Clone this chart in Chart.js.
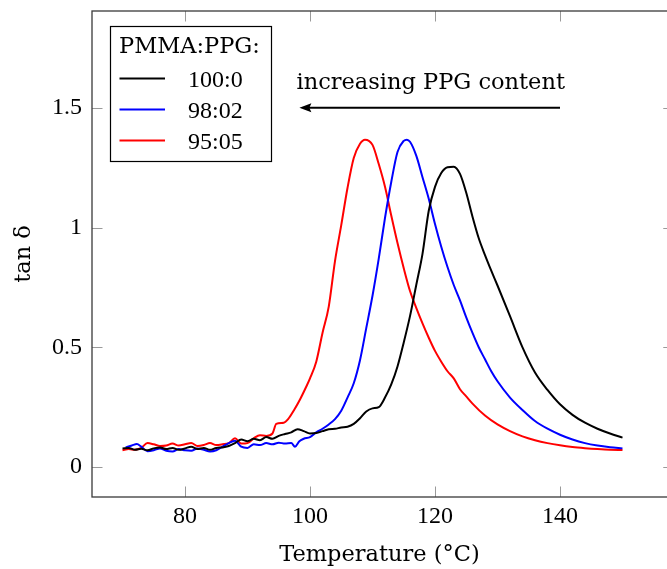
<!DOCTYPE html>
<html><head><meta charset="utf-8">
<script src="https://cdn.jsdelivr.net/npm/chart.js@4/dist/chart.umd.min.js"></script>
<style>html,body{margin:0;padding:0;background:#fff}#wrap{width:667px;height:569px;position:relative}</style>
</head><body><div id="wrap"><canvas id="c" width="667" height="569"></canvas></div>
<script>
// ---- data ----
const seriesLabels = ['100:0', '98:02', '95:05'];
const seriesColors = ['#000000', '#0000ff', '#ff0000'];

const tempBlack = [70,71,72,73,74,75,76,77,78,79,80,81,82,83,84,85,86,87,88,89,90,91,92,93,94,95,96,97,98,99,100,101,102,103,104,105,106,107,108,109,110,111,112,113,114,115,116,117,118,119,120,121,122,123,124,125,126,127,128,129,130,132,134,136,138,140,142,144,146,148,150];
const tanBlack  = [0.078,0.08,0.072,0.076,0.07,0.078,0.082,0.075,0.08,0.072,0.078,0.085,0.075,0.08,0.072,0.08,0.082,0.088,0.1,0.115,0.108,0.118,0.112,0.125,0.118,0.13,0.138,0.145,0.158,0.15,0.14,0.142,0.15,0.158,0.16,0.165,0.168,0.18,0.204,0.232,0.245,0.25,0.29,0.345,0.42,0.52,0.63,0.76,0.89,1.07,1.17,1.228,1.252,1.254,1.224,1.145,1.045,0.955,0.885,0.82,0.758,0.63,0.5,0.395,0.322,0.262,0.218,0.185,0.16,0.14,0.123];

const tempBlue = [70.5,71.5,72.3,73,74,75,76,77,78,79,80,81,82,83,84,85,86,87,88,89,90,91,92,93,94,95,96,97,97.6,98.3,99,100,101,102,103,104,105,106,107,108,109,110,111,112,113,114,115,115.5,116,117,118,119,120,121,122,123,124,125,126,127,128,129,130,132,134,136,138,140,142,144,146,148,150];
const tanBlue  = [0.082,0.09,0.096,0.085,0.066,0.07,0.078,0.068,0.065,0.075,0.07,0.068,0.078,0.072,0.065,0.07,0.085,0.1,0.11,0.085,0.08,0.095,0.092,0.1,0.095,0.102,0.098,0.1,0.085,0.108,0.118,0.125,0.145,0.16,0.178,0.2,0.235,0.29,0.35,0.446,0.58,0.715,0.87,1.04,1.19,1.315,1.362,1.367,1.358,1.3,1.21,1.12,1.015,0.92,0.835,0.76,0.696,0.625,0.56,0.5,0.45,0.4,0.358,0.29,0.238,0.192,0.16,0.135,0.115,0.1,0.09,0.083,0.078];

const tempRed = [70,71,72,73,74,75,76,77,78,79,80,81,82,83,84,85,86,87,88,89,90,91,92,93,94,94.6,95.8,96.5,97.5,98.4,99.3,100,101,102,103,104,105,106,107,108,108.8,110,111,112,113,114,115,116,117,118,119,120,121,122,123,124,125,126,128,130,132,134,136,138,140,142,144,146,148,150];
const tanRed  = [0.07,0.075,0.072,0.08,0.1,0.095,0.088,0.09,0.098,0.09,0.095,0.1,0.088,0.092,0.1,0.092,0.095,0.1,0.12,0.098,0.1,0.12,0.133,0.13,0.14,0.18,0.185,0.2,0.24,0.282,0.33,0.37,0.44,0.56,0.67,0.86,1.01,1.165,1.29,1.35,1.367,1.345,1.265,1.17,1.05,0.935,0.83,0.735,0.665,0.6,0.54,0.485,0.44,0.4,0.37,0.325,0.295,0.265,0.215,0.178,0.15,0.128,0.112,0.1,0.091,0.084,0.079,0.075,0.072,0.071];

const xTicks = [80, 100, 120, 140];
const yTicks = [0, 0.5, 1, 1.5];
const xTitle = 'Temperature (°C)';
const yTitle = 'tan δ';
const legendTitle = 'PMMA:PPG:';
const annotationText = 'increasing PPG content';
const arrowStart = {x: 140, y: 1.5};
const arrowEnd = {x: 98.3, y: 1.5};
const xAxisEnd = 158.2;   // right end of the axis box (beyond the picture edge)

// ---- styling ----
const WORD_FONT = '"DejaVu Serif", serif';
const NUM_FONT = '"Liberation Serif", serif';

function pts(xs, ys) { return xs.map((x, i) => ({x: x, y: ys[i]})); }

const datasets = [
  {label: seriesLabels[0], data: pts(tempBlack, tanBlack), borderColor: seriesColors[0]},
  {label: seriesLabels[1], data: pts(tempBlue, tanBlue), borderColor: seriesColors[1]},
  {label: seriesLabels[2], data: pts(tempRed, tanRed), borderColor: seriesColors[2]}
].map(d => Object.assign(d, {borderWidth: 2, pointRadius: 0, fill: false, cubicInterpolationMode: 'monotone'}));

const framePlugin = {
  id: 'frame',
  afterDraw(chart) {
    const ctx = chart.ctx, a = chart.chartArea;
    const xs = chart.scales.x, ys = chart.scales.y;
    const TL = 10.5;
    const R = xs.getPixelForValue(xAxisEnd);
    ctx.save();
    // ticks (inward, all four sides)
    ctx.strokeStyle = '#9a9a9a';
    ctx.lineWidth = 1;
    ctx.beginPath();
    xTicks.forEach(v => {
      const p = Math.round(xs.getPixelForValue(v)) + 0.5;
      ctx.moveTo(p, a.bottom); ctx.lineTo(p, a.bottom - TL);
      ctx.moveTo(p, a.top); ctx.lineTo(p, a.top + TL);
    });
    yTicks.forEach(v => {
      const p = Math.round(ys.getPixelForValue(v)) + 0.5;
      ctx.moveTo(a.left, p); ctx.lineTo(a.left + TL, p);
      ctx.moveTo(R, p); ctx.lineTo(R - TL, p);
    });
    ctx.stroke();
    // frame
    ctx.strokeStyle = '#3a3a3a';
    ctx.lineWidth = 1.3;
    ctx.strokeRect(a.left, a.top, R - a.left, a.bottom - a.top);

    // annotation arrow + text
    const x1 = xs.getPixelForValue(arrowStart.x), y1 = ys.getPixelForValue(arrowStart.y);
    const x2 = xs.getPixelForValue(arrowEnd.x), y2 = ys.getPixelForValue(arrowEnd.y);
    ctx.strokeStyle = '#000'; ctx.fillStyle = '#000';
    ctx.lineWidth = 2;
    ctx.beginPath(); ctx.moveTo(x1, y1); ctx.lineTo(x2 + 8, y2); ctx.stroke();
    ctx.beginPath(); ctx.moveTo(x2, y2); ctx.lineTo(x2 + 12, y2 - 4.5); ctx.lineTo(x2 + 10, y2); ctx.lineTo(x2 + 12, y2 + 4.5); ctx.closePath(); ctx.fill();
    ctx.font = '22.5px ' + WORD_FONT;
    ctx.textAlign = 'center'; ctx.textBaseline = 'alphabetic';
    ctx.fillText(annotationText, (x1 + x2) / 2 + 1, y1 - 19);

    // legend
    const L = 110.5, T = 26.5, W = 161, H = 135;
    ctx.fillStyle = '#fff';
    ctx.fillRect(L, T, W, H);
    ctx.strokeStyle = '#000'; ctx.lineWidth = 1.2;
    ctx.strokeRect(L, T, W, H);
    ctx.fillStyle = '#000';
    ctx.textAlign = 'left';
    ctx.font = '22.5px ' + WORD_FONT;
    ctx.fillText(legendTitle, 119, 53);
    chart.data.datasets.forEach((d, i) => {
      const yy = 78.5 + i * 31;
      ctx.strokeStyle = d.borderColor; ctx.lineWidth = 2;
      ctx.beginPath(); ctx.moveTo(119.5, yy); ctx.lineTo(165, yy); ctx.stroke();
      ctx.fillStyle = '#000';
      ctx.font = '24px ' + NUM_FONT;
      ctx.fillText(d.label, 188, yy + 8);
    });
    ctx.restore();
  }
};

new Chart(document.getElementById('c'), {
  type: 'line',
  data: {datasets: datasets},
  plugins: [framePlugin],
  options: {
    responsive: false,
    animation: false,
    devicePixelRatio: 1,
    layout: {padding: {top: 11, right: 0, left: 0, bottom: 0}},
    plugins: {legend: {display: false}, tooltip: {enabled: false}},
    scales: {
      x: {
        type: 'linear', min: 65.12, max: 157.12,
        afterBuildTicks: s => { s.ticks = xTicks.map(v => ({value: v})); },
        afterFit: s => { s.height = 72; s.paddingLeft = 0; s.paddingRight = 0; },
        grid: {display: false, drawTicks: false},
        border: {display: false},
        ticks: {padding: 5.5, color: '#000', font: {family: NUM_FONT, size: 24}, maxRotation: 0, callback: v => String(v)},
        title: {display: true, text: xTitle, color: '#000', font: {family: WORD_FONT, size: 22.5}, padding: {top: 0, bottom: 0.5}}
      },
      y: {
        type: 'linear', min: -0.125, max: 1.904,
        afterBuildTicks: s => { s.ticks = yTicks.map(v => ({value: v})); },
        afterFit: s => { s.width = 92; s.paddingTop = 0; s.paddingBottom = 0; },
        grid: {display: false, drawTicks: false},
        border: {display: false},
        ticks: {padding: 10, color: '#000', font: {family: NUM_FONT, size: 24}, callback: v => String(v)},
        title: {display: true, text: yTitle, color: '#000', font: {family: WORD_FONT, size: 22.5}, padding: {top: 10.5, bottom: 0}}
      }
    }
  }
});
</script>
</body></html>
